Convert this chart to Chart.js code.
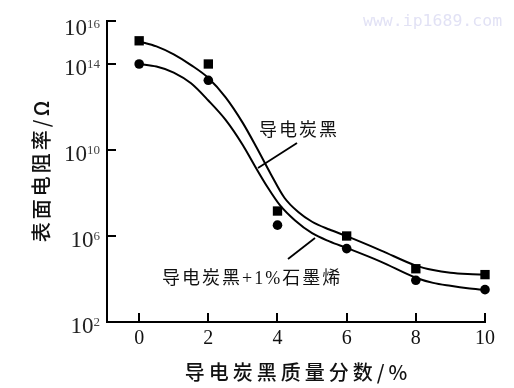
<!DOCTYPE html>
<html>
<head>
<meta charset="utf-8">
<script src="https://cdn.jsdelivr.net/npm/chart.js@4/dist/chart.umd.min.js"></script>
<style>
html,body{margin:0;padding:0;background:#fff;}
#wrap{width:514px;height:388px;position:relative;}
</style>
</head>
<body>
<div id="wrap"><canvas id="c" width="514" height="388"></canvas></div>
<script>
// ---- data ----
const massFraction = [0, 2, 4, 6, 8, 10];                       // 导电炭黑质量分数/%
const resistCB      = [1.2e15, 1.0e14, 1.45e7, 1.0e6, 3.0e4, 1.6e4];   // 导电炭黑 (squares)
const resistCBG     = [1.0e14, 1.75e13, 3.2e6, 2.6e5, 8.7e3, 3.2e3];   // 导电炭黑+1%石墨烯 (circles)

// fitted curves
const fitCBx = [0, 0.5, 1.0, 1.5, 2.0, 2.5, 3.0, 3.4, 3.8, 4.2, 4.6, 5.0, 5.5, 6.0, 7.0, 8.0, 8.5, 9.0, 9.5, 10];
const fitCBy = [1.12e15, 6.6e14, 2.8e14, 8.9e13, 2.24e13, 2.8e12, 1.78e11, 1.26e10, 7.9e8, 6.0e7, 1.3e7, 4.6e6, 2.0e6, 9.8e5, 2.1e5, 4.2e4, 2.6e4, 1.95e4, 1.7e4, 1.6e4];
const fitCBGx = [0, 0.5, 1.0, 1.5, 2.0, 2.5, 3.0, 3.3, 3.7, 4.07, 4.5, 5.0, 5.5, 6.05, 7.0, 8.0, 8.5, 9.0, 9.5, 10];
const fitCBGy = [1.0e14, 7.6e13, 4.0e13, 1.26e13, 2.0e12, 2.5e11, 1.66e10, 2.4e9, 2.0e8, 2.7e7, 5.4e6, 1.35e6, 5.6e5, 2.6e5, 6.3e4, 1.15e4, 6.6e3, 4.8e3, 3.7e3, 3.1e3];

const xTicks = [0, 2, 4, 6, 8, 10];
const yTickExp = [2, 6, 10, 14, 16];

const xTitle = '导电炭黑质量分数/%';
const yTitle = '表面电阻率/Ω';
const labelCB = '导电炭黑';
const labelCBG = '导电炭黑+1%石墨烯';
const watermark = 'www.ip1689.com';

const pts = (xs, ys) => xs.map((x, i) => ({x: x, y: ys[i]}));

const axesPlugin = {
  id: 'axesPlugin',
  afterDraw(chart) {
    const ctx = chart.ctx;
    const xs = chart.scales.x, ys = chart.scales.y;
    const ca = chart.chartArea;
    ctx.save();
    ctx.strokeStyle = '#000';
    ctx.fillStyle = '#000';
    ctx.lineWidth = 2;
    // axis lines
    ctx.beginPath();
    ctx.moveTo(ca.left, ys.getPixelForValue(1e16) - 1);
    ctx.lineTo(ca.left, ca.bottom);
    ctx.lineTo(xs.getPixelForValue(10) + 1, ca.bottom);
    ctx.stroke();
    // x ticks
    xTicks.forEach(v => {
      const px = Math.round(xs.getPixelForValue(v));
      ctx.beginPath();
      ctx.moveTo(px, ca.bottom);
      ctx.lineTo(px, ca.bottom - 9);
      ctx.stroke();
    });
    ctx.font = '20px "Liberation Serif", serif';
    ctx.textAlign = 'center';
    ctx.textBaseline = 'middle';
    ctx.fillStyle = '#111';
    xTicks.forEach(v => {
      ctx.fillText(String(v), xs.getPixelForValue(v), ca.bottom + 17);
    });
    // y ticks
    yTickExp.forEach(e => {
      const py = Math.round(ys.getPixelForValue(Math.pow(10, e)));
      ctx.beginPath();
      ctx.moveTo(ca.left, py);
      ctx.lineTo(ca.left + 9, py);
      ctx.stroke();
      const dy = (e === 16) ? 3 : 0;
      const right = ca.left - 7;
      ctx.font = '13px "Liberation Serif", serif';
      ctx.textAlign = 'right';
      ctx.textBaseline = 'alphabetic';
      const sup = String(e);
      const sw = ctx.measureText(sup).width;
      ctx.fillStyle = '#444';
      ctx.fillText(sup, right, py + 4 + dy);
      ctx.font = '23px "Liberation Serif", serif';
      ctx.fillStyle = '#222';
      ctx.fillText('10', right - sw, py + 11 + dy);
    });
    // axis titles
    ctx.fillStyle = '#111';
    ctx.font = '500 20px "Noto Sans CJK SC", sans-serif';
    ctx.textAlign = 'center';
    ctx.textBaseline = 'middle';
    ctx.letterSpacing = '4px';
    ctx.fillText(xTitle, 298, 372);
    ctx.letterSpacing = '3px';
    ctx.save();
    ctx.translate(41, 170);
    ctx.rotate(-Math.PI / 2);
    ctx.fillText(yTitle, 0, 0);
    ctx.restore();
    // annotations
    ctx.letterSpacing = '2px';
    ctx.font = '18px "Liberation Serif", "Noto Sans CJK SC", serif';
    ctx.textAlign = 'left';
    ctx.fillStyle = '#111';
    ctx.fillText(labelCB, 259, 131);
    ctx.fillText(labelCBG, 162, 279);
    ctx.letterSpacing = '0px';
    ctx.lineWidth = 1.8;
    ctx.strokeStyle = '#000';
    ctx.beginPath();
    ctx.moveTo(258, 168);
    ctx.lineTo(297, 143);
    ctx.stroke();
    ctx.beginPath();
    ctx.moveTo(288, 259);
    ctx.lineTo(315, 238);
    ctx.stroke();
    // watermark
    ctx.font = '16.5px "DejaVu Sans Mono", monospace';
    ctx.fillStyle = '#e2e2f5';
    ctx.textAlign = 'left';
    ctx.fillText(watermark, 363, 22);
    ctx.restore();
  }
};

new Chart(document.getElementById('c'), {
  type: 'line',
  data: {
    datasets: [
      {label: 'fitCB', data: pts(fitCBx, fitCBy), borderColor: '#000', borderWidth: 2, pointRadius: 0, cubicInterpolationMode: 'monotone', fill: false},
      {label: 'fitCBG', data: pts(fitCBGx, fitCBGy), borderColor: '#000', borderWidth: 2, pointRadius: 0, cubicInterpolationMode: 'monotone', fill: false},
      {label: labelCB, data: pts(massFraction, resistCB), showLine: false, pointStyle: 'rect', pointRadius: 6.6, backgroundColor: '#000', borderColor: '#000', borderWidth: 0},
      {label: labelCBG, data: pts(massFraction, resistCBG), showLine: false, pointStyle: 'circle', pointRadius: 4.8, backgroundColor: '#000', borderColor: '#000', borderWidth: 0}
    ]
  },
  options: {
    responsive: false,
    animation: false,
    events: [],
    layout: {padding: {left: 107, top: 21, right: 29, bottom: 66}},
    plugins: {legend: {display: false}, tooltip: {enabled: false}},
    scales: {
      x: {type: 'linear', min: -0.93, max: 10, display: false},
      y: {type: 'logarithmic', min: 1e2, max: 1e16, display: false}
    },
    clip: false
  },
  plugins: [axesPlugin]
});
</script>
</body>
</html>
